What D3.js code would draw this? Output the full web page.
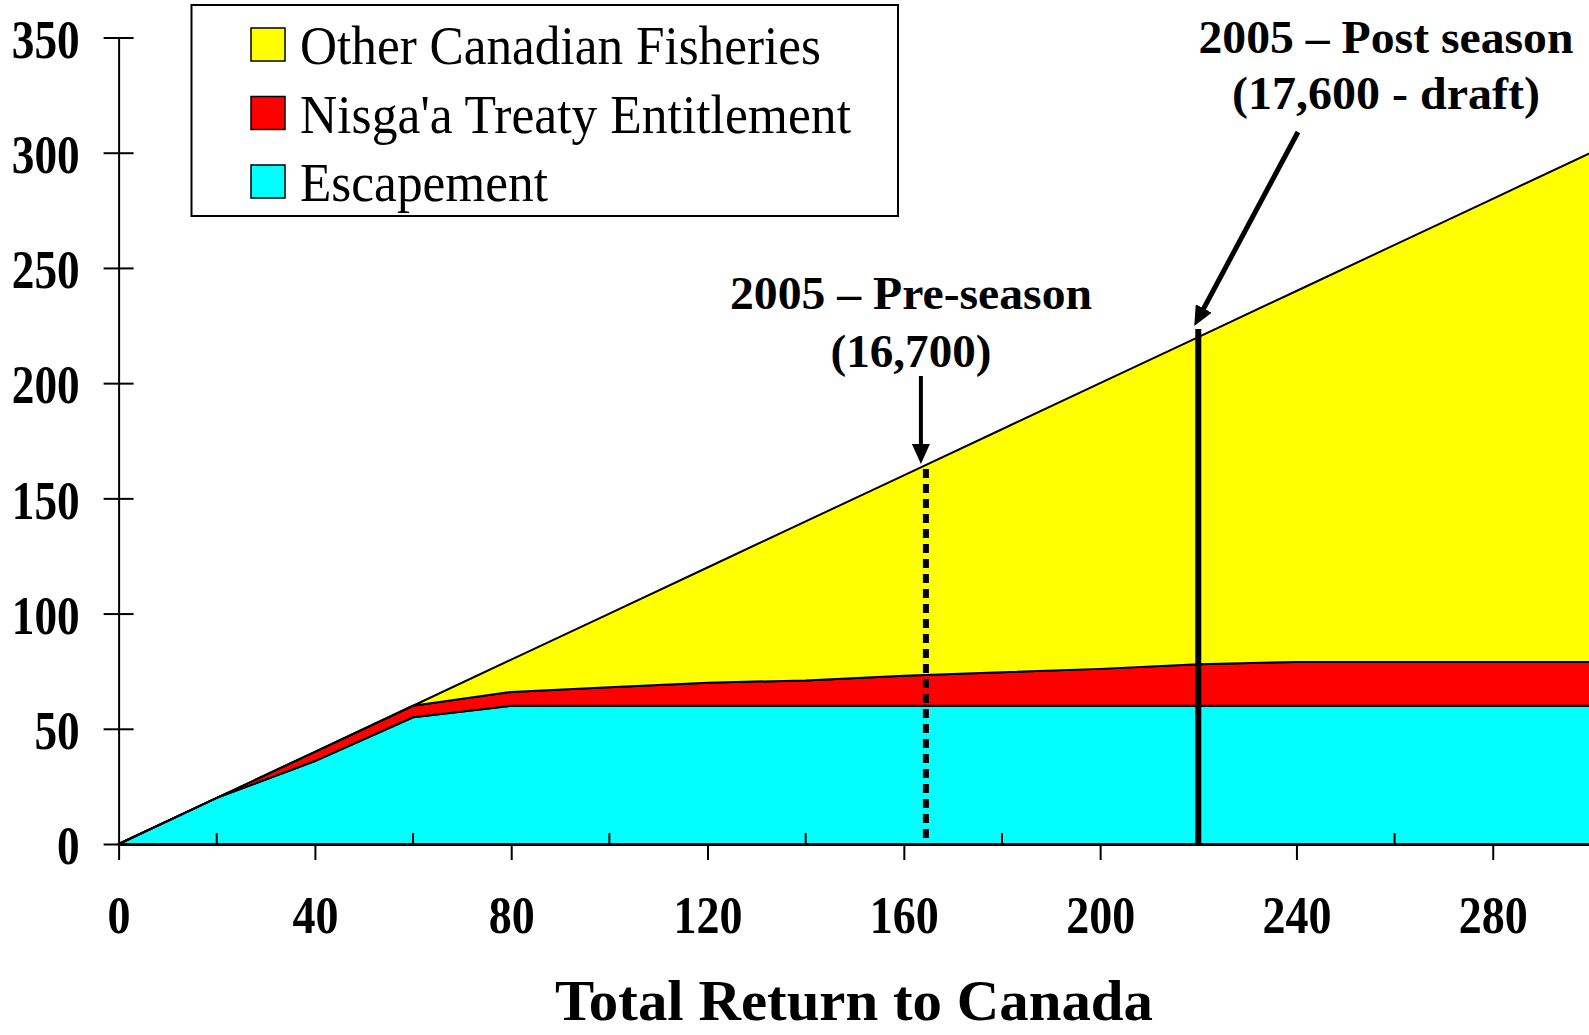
<!DOCTYPE html>
<html>
<head>
<meta charset="utf-8">
<script src="https://cdn.jsdelivr.net/npm/d3@7"></script>
<style>
  html, body { margin: 0; padding: 0; background: #fff; }
  svg { display: block; }
  text { font-family: "Liberation Serif", "Times New Roman", serif; fill: #000; }
</style>
</head>
<body>
<div id="chart"></div>
<script>
// data (total return, in hundreds)
const returns     = [0, 20, 40, 60, 80, 100, 120, 140, 160, 180, 200, 220, 240, 260, 280, 300];
const escapement  = [0, 20, 36, 55, 60, 60, 60, 60, 60, 60, 60, 60, 60, 60, 60, 60];
const nisgaa      = [0, 0, 4, 5, 6, 8, 10, 11, 13, 14.5, 16, 18, 19, 19, 19, 19];
const otherFish   = [0, 0, 0, 0, 14, 32, 50, 69, 87, 105.5, 124, 142, 161, 181, 201, 221];

const seriesNames  = ["Escapement", "Nisga'a Treaty Entitlement", "Other Canadian Fisheries"];
const seriesColors = ["#00FFFF", "#FF0000", "#FFFF00"];
const legendOrder  = ["Other Canadian Fisheries", "Nisga'a Treaty Entitlement", "Escapement"];

const xTicks      = [0, 40, 80, 120, 160, 200, 240, 280];
const xMinorTicks = [20, 60, 100, 140, 180, 220, 260, 300];
const yTicks      = [0, 50, 100, 150, 200, 250, 300, 350];

const preSeason  = 164.5;
const postSeason = 220;

function drawChart() {
    const W = 1589, H = 1035;

    const svg = d3.select("#chart")
        .append("svg")
        .attr("width", W)
        .attr("height", H);

    const x = d3.scaleLinear().domain([0, 300]).range([118.6, 1590.9]);
    const y = d3.scaleLinear().domain([0, 350]).range([844, 37.5]);

    // stacked areas
    const rows = returns.map(function (r, i) {
        return { r: r, "Escapement": escapement[i], "Nisga'a Treaty Entitlement": nisgaa[i], "Other Canadian Fisheries": otherFish[i] };
    });
    const stacked = d3.stack().keys(seriesNames)(rows);
    const color = d3.scaleOrdinal().domain(seriesNames).range(seriesColors);

    const area = d3.area()
        .x(function (d) { return x(d.data.r); })
        .y0(function (d) { return y(d[0]); })
        .y1(function (d) { return y(d[1]); });

    svg.append("g")
        .selectAll("path")
        .data(stacked)
        .enter()
        .append("path")
        .attr("d", area)
        .attr("fill", function (d) { return color(d.key); })
        .attr("stroke", "#000")
        .attr("stroke-width", 2)
        .attr("stroke-linejoin", "round");

    // x axis: major ticks outside, minor ticks inside
    const xAxis = svg.append("g")
        .attr("transform", "translate(0," + y(0) + ")")
        .call(d3.axisBottom(x).tickValues(xTicks).tickSizeInner(16).tickSizeOuter(0).tickPadding(36));
    xAxis.select(".domain").attr("stroke-width", 3);
    xAxis.selectAll(".tick line").attr("stroke-width", 2);
    xAxis.selectAll(".tick text")
        .attr("dy", 0)
        .attr("y", 89)
        .style("font-size", "53px")
        .style("font-weight", "bold")
        .attr("textLength", function (d) { return String(d).length * 23; })
        .attr("lengthAdjust", "spacingAndGlyphs");

    svg.append("g")
        .selectAll("line")
        .data(xMinorTicks)
        .enter()
        .append("line")
        .attr("x1", function (d) { return x(d); })
        .attr("x2", function (d) { return x(d); })
        .attr("y1", y(0))
        .attr("y2", y(0) - 11)
        .attr("stroke", "#000")
        .attr("stroke-width", 2);

    // y axis: ticks crossing the axis
    const yAxis = svg.append("g")
        .attr("transform", "translate(" + x(0) + ",0)")
        .call(d3.axisLeft(y).tickValues(yTicks).tickSizeInner(15).tickSizeOuter(0));
    yAxis.select(".domain").attr("stroke-width", 2);
    yAxis.selectAll(".tick line").attr("x1", 15).attr("stroke-width", 2);
    yAxis.selectAll(".tick text")
        .attr("x", -39)
        .attr("dy", "0.36em")
        .style("font-size", "55px")
        .style("font-weight", "bold")
        .attr("textLength", function (d) { return String(d).length * 22.6; })
        .attr("lengthAdjust", "spacingAndGlyphs");

    // x axis title
    svg.append("text")
        .attr("x", 854)
        .attr("y", 1020)
        .attr("text-anchor", "middle")
        .style("font-size", "58px")
        .style("font-weight", "bold")
        .attr("textLength", 598)
        .attr("lengthAdjust", "spacingAndGlyphs")
        .text("Total Return to Canada");

    // pre-season marker (dotted) and post-season marker (solid)
    svg.append("line")
        .attr("x1", x(preSeason)).attr("x2", x(preSeason))
        .attr("y1", y(preSeason) + 4).attr("y2", y(0))
        .attr("stroke", "#000")
        .attr("stroke-width", 6)
        .attr("stroke-dasharray", "9,6");

    svg.append("line")
        .attr("x1", x(postSeason)).attr("x2", x(postSeason))
        .attr("y1", y(postSeason) - 8).attr("y2", y(0))
        .attr("stroke", "#000")
        .attr("stroke-width", 6);

    // arrows
    const defs = svg.append("defs");
    defs.append("marker")
        .attr("id", "head")
        .attr("markerUnits", "userSpaceOnUse")
        .attr("viewBox", "0 0 20 18")
        .attr("markerWidth", 20)
        .attr("markerHeight", 18)
        .attr("refX", 6)
        .attr("refY", 9)
        .attr("orient", "auto")
        .append("path")
        .attr("d", "M0,0 L20,9 L0,18 Z")
        .attr("fill", "#000");

    function arrow(x1, y1, x2, y2, w) {
        const dx = x2 - x1, dy = y2 - y1;
        const len = Math.sqrt(dx * dx + dy * dy);
        const ex = x2 - dx / len * 14, ey = y2 - dy / len * 14;
        svg.append("line")
            .attr("x1", x1).attr("y1", y1)
            .attr("x2", ex).attr("y2", ey)
            .attr("stroke", "#000")
            .attr("stroke-width", w)
            .attr("marker-end", "url(#head)");
    }
    arrow(x(preSeason) - 5, 376, x(preSeason) - 5, y(preSeason) - 1, 4);
    arrow(1298, 132, x(postSeason) - 4, y(postSeason) - 11, 5);

    // annotations
    function label(txt, cx, by, len) {
        svg.append("text")
            .attr("x", cx)
            .attr("y", by)
            .attr("text-anchor", "middle")
            .style("font-size", "47px")
            .style("font-weight", "bold")
            .attr("textLength", len)
            .attr("lengthAdjust", "spacingAndGlyphs")
            .text(txt);
    }
    label("2005 \u2013 Pre-season", 911, 309, 362);
    label("(16,700)", 911, 367, 161);
    label("2005 \u2013 Post season", 1386, 53, 375);
    label("(17,600 - draft)", 1386, 109, 308);

    // legend
    const legend = svg.append("g");
    legend.append("rect")
        .attr("x", 191.5).attr("y", 5)
        .attr("width", 706.5).attr("height", 211)
        .attr("fill", "#fff")
        .attr("stroke", "#000")
        .attr("stroke-width", 2);

    const legendWidths = [521, 551, 248];
    legendOrder.forEach(function (name, i) {
        const top = 28 + i * 68.5;
        legend.append("rect")
            .attr("x", 251).attr("y", top)
            .attr("width", 34).attr("height", 33)
            .attr("fill", color(name))
            .attr("stroke", "#000")
            .attr("stroke-width", 1.5);
        legend.append("text")
            .attr("x", 300)
            .attr("y", top + 36)
            .style("font-size", "54px")
            .attr("textLength", legendWidths[i])
            .attr("lengthAdjust", "spacingAndGlyphs")
            .text(name);
    });
}

drawChart();
</script>
</body>
</html>
